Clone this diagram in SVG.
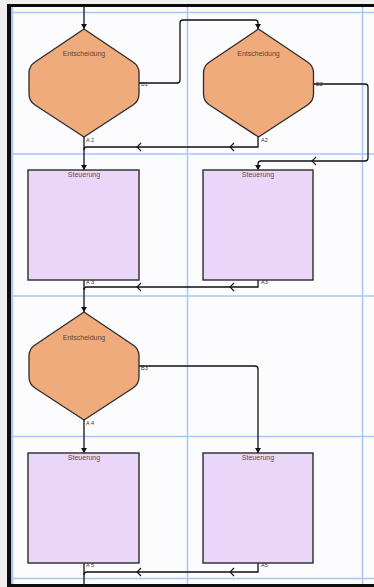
<svg xmlns="http://www.w3.org/2000/svg" width="374" height="587" viewBox="0 0 374 587">
<defs>
<marker id="ah" markerWidth="6" markerHeight="6" refX="5" refY="3" orient="auto" markerUnits="userSpaceOnUse">
<path d="M0,0 L5,3 L0,6 Z" fill="#111"/>
</marker>
</defs>
<style>
.grid{stroke:#a9c6f5;stroke-width:1.5;fill:none}
.frame{fill:#0c0c0c}
.dec{fill:#f0ab7d;stroke:#2b2b2b;stroke-width:1.3;stroke-linejoin:round}
.box{fill:#ead6f8;stroke:#2b2b2b;stroke-width:1.4}
.conn{fill:none;stroke:#111;stroke-width:1.3}
.chev{fill:none;stroke:#111;stroke-width:1.1}
.title{font-family:"Liberation Sans",Arial,sans-serif;font-size:7px;fill:#5a4636;text-anchor:middle}
.stitle{font-family:"Liberation Sans",Arial,sans-serif;font-size:7px;fill:#555060;text-anchor:middle}
.port{font-family:"Liberation Sans",Arial,sans-serif;font-size:5.5px;fill:#333}
</style>
<rect x="0" y="0" width="374" height="587" fill="#efefef"/>
<rect x="11" y="7" width="363" height="577" fill="#fcfbfe"/>
<g id="grid">
<line class="grid" x1="12" y1="7" x2="12" y2="584" style="stroke-width:2.5"/>
<line class="grid" x1="187.5" y1="7" x2="187.5" y2="584"/>
<line class="grid" x1="362.5" y1="7" x2="362.5" y2="584"/>
<line class="grid" x1="11" y1="12.5" x2="374" y2="12.5"/>
<line class="grid" x1="11" y1="154" x2="374" y2="154"/>
<line class="grid" x1="11" y1="296" x2="374" y2="296"/>
<line class="grid" x1="11" y1="436.5" x2="374" y2="436.5"/>
<line class="grid" x1="11" y1="578.5" x2="374" y2="578.5"/>
</g>
<g id="frame">
<rect class="frame" x="7" y="4" width="367" height="3"/>
<rect class="frame" x="7" y="4" width="4" height="583"/>
<rect class="frame" x="7" y="584" width="367" height="3"/>
</g>
<g id="connectors">
<path class="conn" d="M84,7 V29" marker-end="url(#ah)"/>
<path class="conn" d="M139,83 H177 Q180,83 180,80 V23 Q180,20 183,20 H255 Q258,20 258,23 V29" marker-end="url(#ah)"/>
<path class="conn" d="M84,137 V170" marker-end="url(#ah)"/>
<path class="conn" d="M258,137 V147 H87 Q84,147 84,150"/>
<polyline class="chev" points="141,143 137,147 141,151"/>
<polyline class="chev" points="234,143 230,147 234,151"/>
<path class="conn" d="M314,84 H365 Q368,84 368,87 V158 Q368,161 365,161 H261 Q258,161 258,164 V170" marker-end="url(#ah)"/>
<polyline class="chev" points="316,157 312,161 316,165"/>
<path class="conn" d="M84,280 V312" marker-end="url(#ah)"/>
<path class="conn" d="M258,280 V287 H87 Q84,287 84,290"/>
<polyline class="chev" points="141,283 137,287 141,291"/>
<polyline class="chev" points="234,283 230,287 234,291"/>
<path class="conn" d="M139,366 H255 Q258,366 258,369 V453" marker-end="url(#ah)"/>
<path class="conn" d="M84,420 V453" marker-end="url(#ah)"/>
<path class="conn" d="M84,563 V587"/>
<path class="conn" d="M258,563 V572 H87 Q84,572 84,575"/>
<polyline class="chev" points="141,568 137,572 141,576"/>
<polyline class="chev" points="234,568 230,572 234,576"/>
</g>
<g id="decision1">
<path class="dec" d="M84,29 L133,62 Q139,66 139,73 V94 Q139,101 133,105 L84,137 L35,105 Q29,101 29,94 V73 Q29,66 35,62 Z"/>
<text class="title" x="84" y="56">Entscheidung</text>
<text class="port" x="141" y="86">B1</text>
<text class="port" x="86" y="142">A 2</text>
</g>
<g id="decision2">
<path class="dec" d="M258.5,29 L307.5,62 Q313.5,66 313.5,73 V94 Q313.5,101 307.5,105 L258.5,137 L209.5,105 Q203.5,101 203.5,94 V73 Q203.5,66 209.5,62 Z"/>
<text class="title" x="258.5" y="56">Entscheidung</text>
<text class="port" x="316" y="86">B2</text>
<text class="port" x="261" y="142">A2</text>
</g>
<g id="control1">
<rect class="box" x="28" y="170" width="111" height="110"/>
<text class="stitle" x="84" y="177">Steuerung</text>
<text class="port" x="86" y="284">A 3</text>
</g>
<g id="control2">
<rect class="box" x="203" y="170" width="110" height="110"/>
<text class="stitle" x="258" y="177">Steuerung</text>
<text class="port" x="261" y="284">A3</text>
</g>
<g id="decision3">
<path class="dec" d="M84,312 L133,345 Q139,349 139,356 V377 Q139,384 133,388 L84,420 L35,388 Q29,384 29,377 V356 Q29,349 35,345 Z"/>
<text class="title" x="84" y="340">Entscheidung</text>
<text class="port" x="141" y="370">B3</text>
<text class="port" x="86" y="425">A 4</text>
</g>
<g id="control3">
<rect class="box" x="28" y="453" width="111" height="110"/>
<text class="stitle" x="84" y="460">Steuerung</text>
<text class="port" x="86" y="567">A 5</text>
</g>
<g id="control4">
<rect class="box" x="203" y="453" width="110" height="110"/>
<text class="stitle" x="258" y="460">Steuerung</text>
<text class="port" x="261" y="567">A5</text>
</g>
</svg>
